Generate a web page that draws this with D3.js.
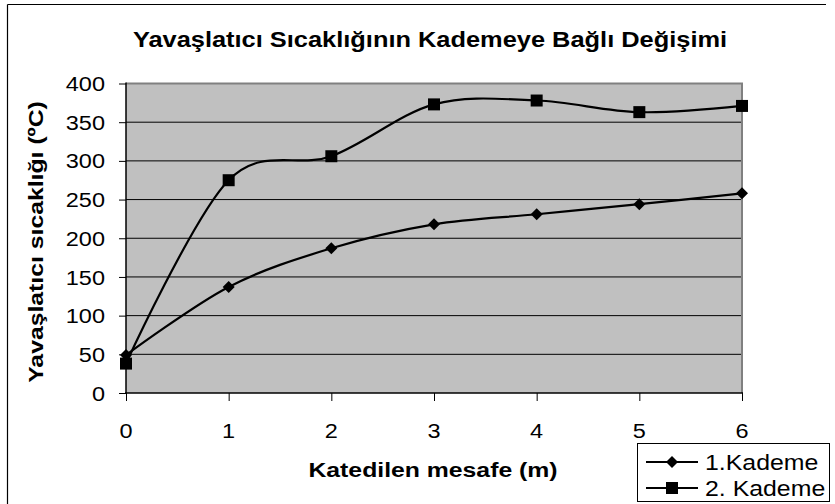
<!DOCTYPE html>
<html>
<head>
<meta charset="utf-8">
<script src="https://cdn.jsdelivr.net/npm/d3@7"></script>
<style>
  html, body { margin: 0; padding: 0; background: #fff; }
  svg { display: block; font-family: "Liberation Sans", Arial, sans-serif; }
</style>
</head>
<body>
<svg id="chart" width="835" height="504"></svg>
<script>
// Distance along the reactor (m)
const distances = [0, 1, 2, 3, 4, 5, 6];
// Moderator temperature per stage (°C)
const stage1 = [49, 137, 187, 218, 231, 244, 258];
const stage2 = [38, 275, 306, 373, 378, 363, 371];
const seriesNames = ["1.Kademe", "2. Kademe"];
const yTicks = [0, 50, 100, 150, 200, 250, 300, 350, 400];

const title = "Yavaşlatıcı Sıcaklığının Kademeye Bağlı Değişimi";
const xTitle = "Katedilen mesafe (m)";
const yTitle = "Yavaşlatıcı sıcaklığı (ºC)";

const svg = d3.select("#chart");
const W = 835, H = 504;
const plot = { left: 126, right: 742, top: 83.5, bottom: 393 };

const x = d3.scaleLinear().domain([0, 6]).range([plot.left, plot.right]);
const y = d3.scaleLinear().domain([0, 400]).range([plot.bottom, plot.top]);

// outer frame (top and left edges)
svg.append("line").attr("x1", 7.5).attr("x2", 826).attr("y1", 4.5).attr("y2", 4.5)
  .attr("stroke", "#000").attr("stroke-width", 1.2);
svg.append("line").attr("x1", 7.5).attr("x2", 7.5).attr("y1", 4.5).attr("y2", H)
  .attr("stroke", "#000").attr("stroke-width", 1.2);

// helper for horizontally stretched text
function stretchedText(g, tx, ty, str, opts) {
  const t = g.append("text")
    .attr("transform", `translate(${tx},${ty}) scale(${opts.sx || 1.12},1)`)
    .attr("text-anchor", opts.anchor || "middle")
    .attr("font-size", opts.size)
    .attr("font-weight", opts.weight || "normal")
    .attr("fill", "#000")
    .text(str);
  if (opts.dy) t.attr("dy", opts.dy);
  return t;
}

// plot background
svg.append("rect")
  .attr("x", plot.left).attr("y", plot.top)
  .attr("width", plot.right - plot.left).attr("height", plot.bottom - plot.top)
  .attr("fill", "#c0c0c0");

// horizontal gridlines
svg.append("g").selectAll("line").data(yTicks.filter(d => d > 0 && d < 400)).join("line")
  .attr("x1", plot.left).attr("x2", plot.right)
  .attr("y1", d => y(d)).attr("y2", d => y(d))
  .attr("stroke", "#000").attr("stroke-width", 1);

// plot frame top/right
svg.append("path")
  .attr("d", `M${plot.left},${plot.top}H${plot.right}V${plot.bottom}`)
  .attr("fill", "none").attr("stroke", "#808080").attr("stroke-width", 2);

// y axis
const yAxis = svg.append("g").attr("transform", `translate(${plot.left},0)`)
  .call(d3.axisLeft(y).tickValues(yTicks).tickSize(7).tickFormat(d3.format("d")));
yAxis.select(".domain").remove();
yAxis.selectAll(".tick line").attr("stroke", "#000").attr("stroke-width", 1);
yAxis.selectAll(".tick text").remove();
yAxis.append("line").attr("x1", 0).attr("x2", 0).attr("y1", plot.top - 1).attr("y2", plot.bottom + 1)
  .attr("stroke", "#000").attr("stroke-width", 1.5);
yTicks.forEach(v => {
  stretchedText(svg, 105, y(v), String(v), { size: 21, anchor: "end", dy: "0.36em" });
});

// x axis
const xAxis = svg.append("g").attr("transform", `translate(0,${plot.bottom})`)
  .call(d3.axisBottom(x).tickValues(distances).tickSize(8).tickFormat(d3.format("d")));
xAxis.select(".domain").remove();
xAxis.selectAll(".tick line").attr("stroke", "#000").attr("stroke-width", 1);
xAxis.selectAll(".tick text").remove();
xAxis.append("line").attr("x1", plot.left - 1).attr("x2", plot.right + 1).attr("y1", 0).attr("y2", 0)
  .attr("stroke", "#000").attr("stroke-width", 1.5);
distances.forEach(v => {
  stretchedText(svg, x(v), 438, String(v), { size: 21 });
});

// series lines (smoothed)
const line = d3.line()
  .x((d, i) => x(distances[i]))
  .y(d => y(d))
  .curve(d3.curveCardinal.tension(0));

[stage1, stage2].forEach(s => {
  svg.append("path").datum(s)
    .attr("d", line)
    .attr("fill", "none").attr("stroke", "#000").attr("stroke-width", 2.2);
});

// markers
function diamondPath(g, cx, cy) {
  g.append("path").attr("d", d3.symbol().type(d3.symbolSquare).size(72)())
    .attr("transform", `translate(${cx},${cy}) rotate(45)`).attr("fill", "#000");
}
function squarePath(g, cx, cy) {
  g.append("path").attr("d", d3.symbol().type(d3.symbolSquare).size(144)())
    .attr("transform", `translate(${cx},${cy})`).attr("fill", "#000");
}
stage2.forEach((v, i) => squarePath(svg, x(distances[i]), y(v)));
stage1.forEach((v, i) => diamondPath(svg, x(distances[i]), y(v)));

// titles
stretchedText(svg, 430, 47, title, { size: 22, weight: "bold", sx: 1.155 });
stretchedText(svg, 433, 477, xTitle, { size: 21, weight: "bold", sx: 1.18 });
svg.append("text")
  .attr("transform", `translate(43,${242}) rotate(-90) scale(1.18,1)`)
  .attr("text-anchor", "middle")
  .attr("font-size", 21).attr("font-weight", "bold")
  .text(yTitle);

// legend
const lg = svg.append("g");
lg.append("rect").attr("x", 637.5).attr("y", 443.5).attr("width", 192).attr("height", 58)
  .attr("fill", "#fff").attr("stroke", "#000").attr("stroke-width", 1);
const rows = [462, 488];
seriesNames.forEach((name, i) => {
  const cy = rows[i];
  lg.append("line").attr("x1", 646).attr("x2", 698).attr("y1", cy).attr("y2", cy)
    .attr("stroke", "#000").attr("stroke-width", 2.2);
  if (i === 0) diamondPath(lg, 672, cy); else squarePath(lg, 672, cy);
  stretchedText(lg, 705, cy, name, { size: 22, anchor: "start", dy: "0.36em", sx: 1.13 });
});
</script>
</body>
</html>
